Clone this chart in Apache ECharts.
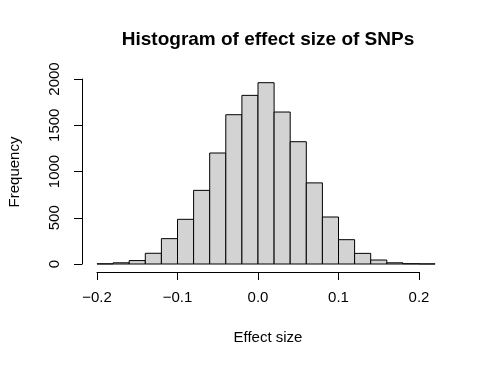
<!DOCTYPE html>
<html>
<head>
<meta charset="utf-8">
<script src="https://cdn.jsdelivr.net/npm/echarts@6/dist/echarts.min.js"></script>
<style>
  html, body { margin: 0; padding: 0; background: #fff; }
  #chart { width: 491px; height: 368px; }
</style>
</head>
<body>
<div id="chart"></div>
<script>
// bin edges (width 0.02) and counts
const binStart = -0.2
const binWidth = 0.02
const counts = [2, 13, 37, 116, 274, 483, 796, 1200, 1614, 1823, 1960, 1643, 1322, 877, 508, 263, 115, 43, 13, 3, 1]
const xTicks = [-0.2, -0.1, 0.0, 0.1, 0.2]
const yTicks = [0, 500, 1000, 1500, 2000]

const font = 'Liberation Sans, Arial, Helvetica, sans-serif'

// rows: [left, right, count]
const bins = counts.map((c, i) => {
  const left = +(binStart + i * binWidth).toFixed(2)
  return [left, +(left + binWidth).toFixed(2), c]
})

const myChart = echarts.init(document.getElementById('chart'), null, { renderer: 'canvas' })

const option = {
  backgroundColor: '#fff',
  animation: false,
  grid: { left: 97, right: 72, top: 79, bottom: 104, containLabel: false },
  xAxis: {
    type: 'value',
    min: xTicks[0],
    max: xTicks[xTicks.length - 1],
    interval: 0.1,
    offset: 8,
    axisLine: { show: true, onZero: false, lineStyle: { color: '#000', width: 1 } },
    axisTick: { show: true, length: 8, lineStyle: { color: '#000' } },
    splitLine: { show: false },
    axisLabel: {
      color: '#000', fontSize: 15, fontFamily: font, margin: 18,
      formatter: v => v.toFixed(1).replace('-', '\u2212')
    }
  },
  yAxis: {
    type: 'value',
    min: yTicks[0],
    max: yTicks[yTicks.length - 1],
    interval: 500,
    offset: 15,
    axisLine: { show: true, onZero: false, lineStyle: { color: '#000', width: 1 } },
    axisTick: { show: true, length: 8, lineStyle: { color: '#000' } },
    splitLine: { show: false },
    axisLabel: {
      color: '#000', fontSize: 15, fontFamily: font, rotate: 90, margin: 20,
      formatter: v => String(v)
    }
  },
  graphic: [
    {
      type: 'text', x: 268, y: 40,
      style: { text: 'Histogram of effect size of SNPs', font: 'bold 19px ' + font, fill: '#000', textAlign: 'center', textVerticalAlign: 'middle' }
    },
    {
      type: 'text', x: 268, y: 338,
      style: { text: 'Effect size', font: '15px ' + font, fill: '#000', textAlign: 'center', textVerticalAlign: 'middle' }
    },
    {
      type: 'text', x: 15, y: 172, rotation: Math.PI / 2,
      style: { text: 'Frequency', font: '15px ' + font, fill: '#000', textAlign: 'center', textVerticalAlign: 'middle' }
    }
  ],
  series: [{
    type: 'custom',
    clip: false,
    data: bins,
    encode: { x: [0, 1], y: 2 },
    renderItem: (params, api) => {
      const p0 = api.coord([api.value(0), 0])
      const p1 = api.coord([api.value(1), api.value(2)])
      return {
        type: 'rect',
        shape: { x: p0[0], y: p1[1], width: p1[0] - p0[0], height: p0[1] - p1[1] },
        style: { fill: '#d3d3d3', stroke: '#000', lineWidth: 1 }
      }
    }
  }]
}

myChart.setOption(option)
</script>
</body>
</html>
